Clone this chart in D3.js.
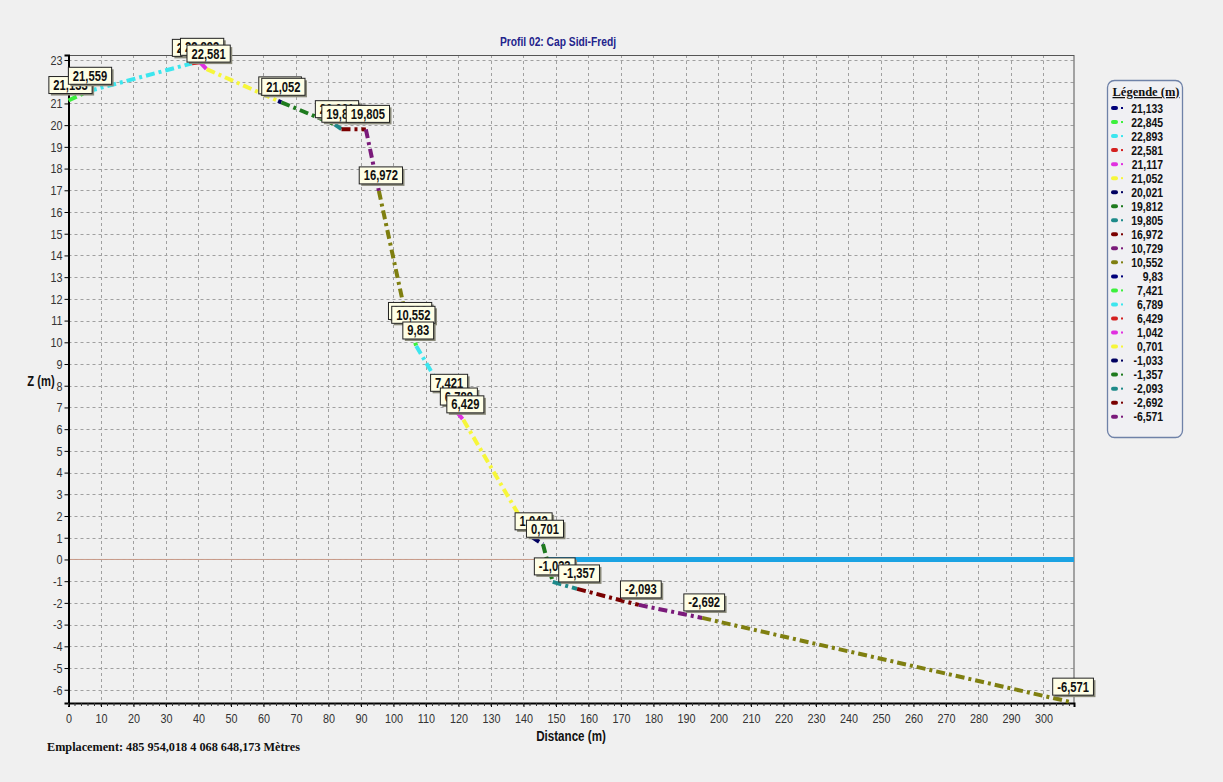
<!DOCTYPE html>
<html>
<head>
<meta charset="utf-8">
<script src="https://cdn.jsdelivr.net/npm/d3@7"></script>
<style>
  html, body { margin: 0; padding: 0; background: #f0f0f0; }
  svg { display: block; }
  .narrow { font-family: "Liberation Sans", Arial, sans-serif; }
</style>
</head>
<body>
<svg id="chart" width="1223" height="782"></svg>
<script>
// ---------------- data ----------------
const title = "Profil 02: Cap Sidi-Fredj";
const xTitle = "Distance (m)";
const yTitle = "Z (m)";
const footer = "Emplacement: 485 954,018  4 068 648,173 Mètres";
const legendTitle = "Légende (m)";

// profile vertices: distance (m) and elevation Z (m)
const distances = [0, 6, 38, 40.5, 42.5, 64.5, 65.5, 82, 84, 91.5, 95.5, 104.5, 105.5, 107, 116.5, 119.5, 121.5, 142.5, 146, 149, 156.5, 175.5, 195, 308.5];
const elevations = [21.133, 21.559, 22.845, 22.893, 22.581, 21.117, 21.052, 20.021, 19.812, 19.805, 16.972, 10.729, 10.552, 9.83, 7.421, 6.789, 6.429, 1.042, 0.701, -1.033, -1.357, -2.093, -2.692, -6.571];

// legend entries
const legendValues = [21.133, 22.845, 22.893, 22.581, 21.117, 21.052, 20.021, 19.812, 19.805, 16.972, 10.729, 10.552, 9.83, 7.421, 6.789, 6.429, 1.042, 0.701, -1.033, -1.357, -2.093, -2.692, -6.571];

// colour cycle used by segments and legend
const palette = ["#00007a", "#3cf03c", "#3ce6ee", "#d42020", "#e030e0", "#f6f63a", "#000060", "#1e7a1e", "#1e8a8a", "#7a0000", "#7a1a7a", "#7f7f10"];

// sea level line (Z = 0)
const seaStart = 147.5;
const refLineEnd = 150;

// ticks
const xTicks = d3.range(0, 301, 10);
const xMinorTicks = d3.range(0, 309, 2);
const yTicks = d3.range(-6, 24, 1);
const xDomain = [0, 309.4];
const yDomain = [-6.61, 23.23];

// ---------------- chart ----------------
const NARROW = 0.8;
function squeeze(sel, f) {
  sel.each(function () {
    const w = this.getComputedTextLength();
    d3.select(this).attr("textLength", w * (f || NARROW)).attr("lengthAdjust", "spacingAndGlyphs");
  });
  return sel;
}

const svg = d3.select("#chart");
svg.append("rect").attr("width", 1223).attr("height", 782).attr("fill", "#f0f0f0");

const x = d3.scaleLinear().domain(xDomain).range([68.5, 1074]);
const y = d3.scaleLinear().domain(yDomain).range([703, 55]);

const fmt = v => String(+v.toFixed(3)).replace(".", ",");

// grid
const grid = svg.append("g");
grid.selectAll(".gx").data(xTicks.filter(d => d > 0)).enter().append("line")
  .attr("x1", d => Math.round(x(d)) + 0.5).attr("x2", d => Math.round(x(d)) + 0.5).attr("y1", y.range()[1]).attr("y2", y.range()[0])
  .attr("stroke", "#a0a0a0").attr("stroke-width", 1).attr("stroke-dasharray", "3,3");
grid.selectAll(".gy").data(yTicks).enter().append("line")
  .attr("x1", x.range()[0]).attr("x2", x.range()[1]).attr("y1", d => Math.round(y(d)) + 0.5).attr("y2", d => Math.round(y(d)) + 0.5)
  .attr("stroke", "#a0a0a0").attr("stroke-width", 1).attr("stroke-dasharray", "3,3");

// border (top/right)
svg.append("rect").attr("x", x.range()[0]).attr("y", y.range()[1] + 0.5).attr("width", x.range()[1] - x.range()[0]).attr("height", y.range()[0] - y.range()[1])
  .attr("fill", "none").attr("stroke", "#555").attr("stroke-width", 1);

// reference line at 0
svg.append("line").attr("x1", x(0)).attr("x2", x(refLineEnd)).attr("y1", y(0)).attr("y2", y(0))
  .attr("stroke", "#c89a88").attr("stroke-width", 1);
// sea line
svg.append("line").attr("x1", x(seaStart)).attr("x2", x(xDomain[1])).attr("y1", y(0)).attr("y2", y(0))
  .attr("stroke", "#1ba3e3").attr("stroke-width", 5);

// axes
const yAxis = d3.axisLeft(y).tickValues(yTicks).tickSize(4).tickPadding(2).tickFormat(d => String(d));
const gy = svg.append("g").attr("transform", `translate(${x.range()[0]},0)`).call(yAxis);
gy.select(".domain").attr("stroke", "#000").attr("stroke-width", 2);
gy.selectAll("text").attr("class", "narrow").attr("font-size", 13.5).attr("fill", "#333").attr("font-family", null);
squeeze(gy.selectAll("text"));

const xAxis = d3.axisBottom(x).tickValues(xTicks).tickSize(4).tickPadding(6).tickFormat(d => String(d));
const gx = svg.append("g").attr("transform", `translate(0,${y.range()[0]})`).call(xAxis);
gx.select(".domain").attr("stroke", "#000").attr("stroke-width", 2);
gx.selectAll("text").attr("class", "narrow").attr("font-size", 13.5).attr("fill", "#333").attr("font-family", null);
squeeze(gx.selectAll("text"));
svg.append("g").selectAll("line").data(xMinorTicks).enter().append("line")
  .attr("x1", d => x(d)).attr("x2", d => x(d)).attr("y1", y.range()[0]).attr("y2", y.range()[0] + 3)
  .attr("stroke", "#333").attr("stroke-width", 1);

// profile segments
const pts = distances.map((d, i) => ({ d, z: elevations[i] }));
const segs = pts.slice(0, -1).map((p, i) => ({ a: p, b: pts[i + 1], c: palette[(i + 1) % palette.length] }));
svg.append("g").selectAll("line").data(segs).enter().append("line")
  .attr("x1", s => x(s.a.d)).attr("y1", s => y(s.a.z)).attr("x2", s => x(s.b.d)).attr("y2", s => y(s.b.z))
  .attr("stroke", s => s.c).attr("stroke-width", 4).attr("stroke-dasharray", "9,4,3,4");

// value labels
const lab = svg.append("g");
pts.forEach(p => {
  const t = fmt(p.z);
  const cx = x(p.d) + 2, by = y(p.z) - 7;
  const g = lab.append("g");
  const txt = g.append("text").attr("class", "narrow").attr("x", cx).attr("y", by - 3.5)
    .attr("text-anchor", "middle").attr("font-size", 14).attr("font-weight", "bold").attr("fill", "#111").text(t);
  const w0 = txt.node().getComputedTextLength();
  txt.attr("textLength", w0 * NARROW).attr("lengthAdjust", "spacingAndGlyphs");
  const w = w0 * NARROW + 9;
  g.insert("rect", "text").attr("x", cx - w / 2 + 2).attr("y", by - 17 + 2).attr("width", w).attr("height", 17).attr("fill", "#8a8a7a");
  g.insert("rect", "text").attr("x", cx - w / 2).attr("y", by - 17).attr("width", w).attr("height", 17)
    .attr("fill", "#fefee6").attr("stroke", "#222").attr("stroke-width", 1);
});

// titles
squeeze(svg.append("text").attr("class", "narrow").attr("x", 558).attr("y", 46).attr("text-anchor", "middle")
  .attr("font-size", 12.5).attr("font-weight", "bold").attr("fill", "#23238c").text(title), 0.82);
squeeze(svg.append("text").attr("class", "narrow").attr("x", 571).attr("y", 741).attr("text-anchor", "middle")
  .attr("font-size", 14.5).attr("font-weight", "bold").attr("fill", "#111").text(xTitle));
squeeze(svg.append("text").attr("class", "narrow").attr("x", 41).attr("y", 386).attr("text-anchor", "middle")
  .attr("font-size", 14).attr("font-weight", "bold").attr("fill", "#111").text(yTitle));
svg.append("text").attr("x", 47).attr("y", 751)
  .attr("font-family", "'Liberation Serif','DejaVu Serif',serif").attr("font-size", 13).attr("font-weight", "bold")
  .attr("textLength", 253).attr("lengthAdjust", "spacingAndGlyphs").attr("fill", "#111").text(footer);

// legend
const lg = svg.append("g");
lg.append("rect").attr("x", 1107.5).attr("y", 80.5).attr("width", 75).attr("height", 357).attr("rx", 7)
  .attr("fill", "#f0f0f3").attr("stroke", "#6f82a8").attr("stroke-width", 1.3);
lg.append("text").attr("x", 1146).attr("y", 96).attr("text-anchor", "middle")
  .attr("font-family", "'Liberation Serif','DejaVu Serif',serif").attr("font-size", 12.5).attr("font-weight", "bold")
  .attr("text-decoration", "underline").attr("fill", "#111").text(legendTitle);
const ly = d3.scaleLinear().domain([0, legendValues.length - 1]).range([108, 416.7]);
legendValues.forEach((v, i) => {
  const c = palette[i % palette.length];
  const yy = ly(i);
  lg.append("rect").attr("x", 1111).attr("y", yy - 2).attr("width", 7).attr("height", 4).attr("rx", 2).attr("fill", c);
  lg.append("rect").attr("x", 1121).attr("y", yy - 1).attr("width", 2).attr("height", 2).attr("fill", c);
  const t = lg.append("text").attr("class", "narrow").attr("x", 1163).attr("y", yy + 4.5).attr("text-anchor", "end")
    .attr("font-size", 13).attr("font-weight", "bold").attr("fill", "#111").text(fmt(v));
  squeeze(t);
});
</script>
</body>
</html>
